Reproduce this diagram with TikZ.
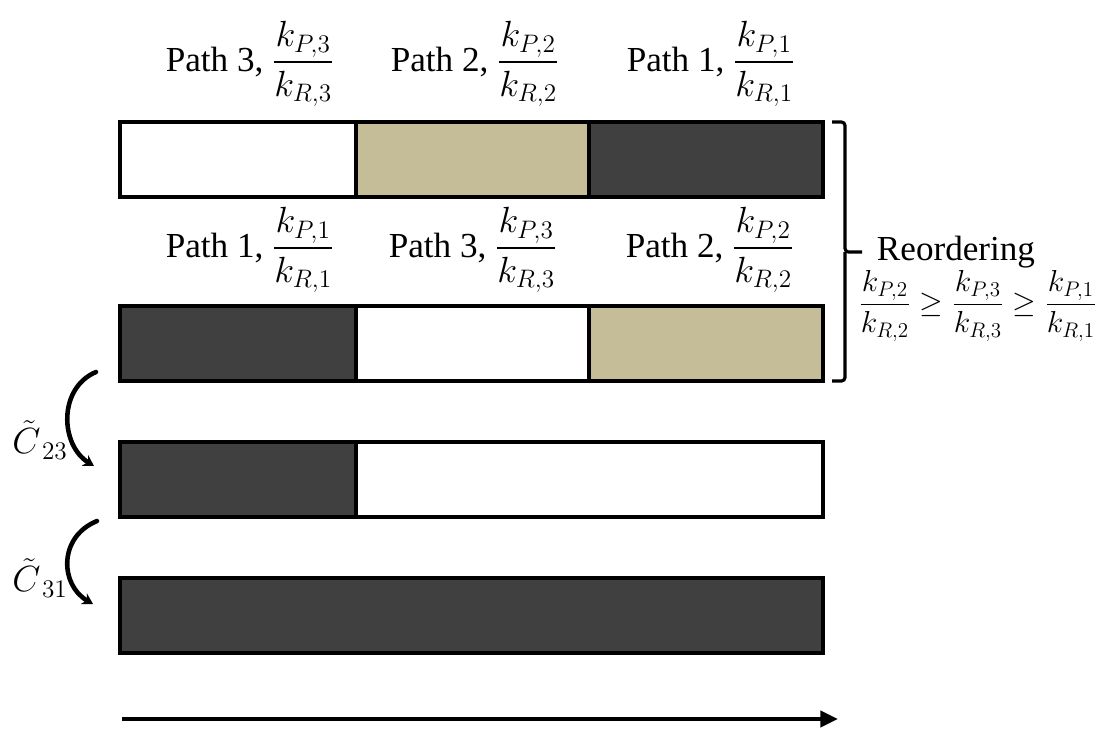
\documentclass[tikz,border=0pt]{standalone}
\usepackage{amsmath}
\usepackage{fontspec}
\setmainfont{Liberation Serif}
\usetikzlibrary{arrows.meta}
\definecolor{darkbar}{HTML}{404040}
\definecolor{tanbar}{HTML}{C4BD97}
\tikzset{
  seg/.style={draw=black, line width=2pt},
  curl/.style={line width=2.6pt, line cap=round, -{Stealth[length=6pt,width=7pt]}},
  lbl/.style={inner sep=0pt}
}
\begin{document}
\begin{tikzpicture}[x=0.02cm, y=-0.02cm, font=\fontsize{20}{24}\selectfont]
\useasboundingbox (0,0) rectangle (1100,731);

% bar 1: path 3 | path 2 | path 1
\draw[seg, fill=white]   (120,122) rectangle (356,197);
\draw[seg, fill=tanbar]  (356,122) rectangle (589,197);
\draw[seg, fill=darkbar] (589,122) rectangle (823,197);

\node[lbl] (l13) at (250,64) {Path 3, $\dfrac{k_{P,3}}{k_{R,3}}$};
\node[lbl] (l12) at (475,64) {Path 2, $\dfrac{k_{P,2}}{k_{R,2}}$};
\node[lbl] (l11) at (711,64) {Path 1, $\dfrac{k_{P,1}}{k_{R,1}}$};

% bar 2: path 1 | path 3 | path 2
\draw[seg, fill=darkbar] (120,306) rectangle (356,381);
\draw[seg, fill=white]   (356,306) rectangle (589,381);
\draw[seg, fill=tanbar]  (589,306) rectangle (823,381);

\node[lbl] (l21) at (250,250) {Path 1, $\dfrac{k_{P,1}}{k_{R,1}}$};
\node[lbl] (l23) at (473,250) {Path 3, $\dfrac{k_{P,3}}{k_{R,3}}$};
\node[lbl] (l22) at (710,250) {Path 2, $\dfrac{k_{P,2}}{k_{R,2}}$};

% bar 3
\draw[seg, fill=darkbar] (120,442) rectangle (356,517);
\draw[seg, fill=white]   (356,442) rectangle (823,517);

% bar 4
\draw[seg, fill=darkbar] (120,578) rectangle (823,653);

% brace
\draw[line width=1.8pt, rounded corners=2pt] (832,122) -- (845,122) -- (845,252) -- (862,252)
   (845,252) -- (845,381) -- (832,381);
\node[lbl] (reo) at (956,252) {Reordering};
\node[lbl, font=\fontsize{18}{22}\selectfont] (ineq) at (978,306) {$\dfrac{k_{P,2}}{k_{R,2}}\geq\dfrac{k_{P,3}}{k_{R,3}}\geq\dfrac{k_{P,1}}{k_{R,1}}$};

% curved arrows
\coordinate (c23a) at (96,372);
\coordinate (c23b) at (94,466);
\coordinate (c31a) at (97,521);
\coordinate (c31b) at (93,604);
\draw[curl] (c23a) .. controls (58,388) and (60,445) .. (c23b);
\draw[curl] (c31a) .. controls (58,537) and (60,585) .. (c31b);
\node[lbl, font=\fontsize{22}{26}\selectfont] (c23) at (40,440) {$\tilde{C}_{\,23}$};
\node[lbl, font=\fontsize{22}{26}\selectfont] (c31) at (40,578) {$\tilde{C}_{\,31}$};

% time axis
\coordinate (ax0) at (122,719);
\coordinate (ax1) at (838,719);
\draw[line width=2.4pt, -{Triangle[length=10pt,width=9pt]}] (ax0) -- (ax1);
\end{tikzpicture}
\end{document}
